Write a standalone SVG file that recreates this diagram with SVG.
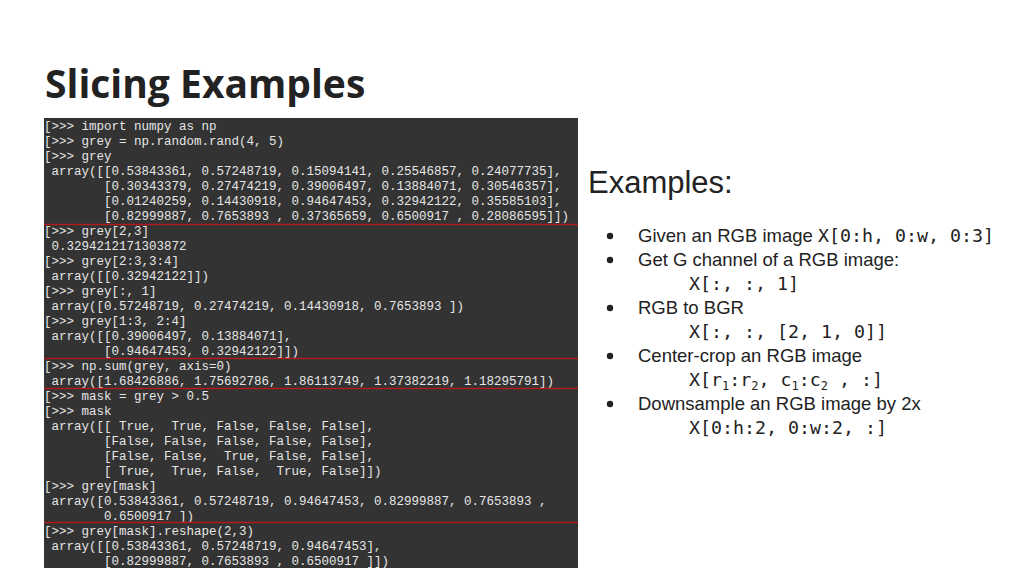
<svg xmlns="http://www.w3.org/2000/svg" width="1024" height="576" viewBox="0 0 1024 576" xml:space="preserve">
<style>
.t{font-family:"Liberation Mono",monospace;font-size:12.5px;fill:#e6e6e6;white-space:pre}
.r{stroke:#b01c1c;stroke-width:1.5}
.s{font-family:"Liberation Sans",Arial,sans-serif;font-size:18.5px;fill:#222}
.m{font-family:"DejaVu Sans Mono",monospace;font-size:18.3px;fill:#222;white-space:pre}
</style>
<rect width="1024" height="576" fill="#fff"/>
<text x="45" y="98" font-family="'Open Sans',sans-serif" font-weight="bold" font-size="39" fill="#222">Slicing Examples</text>
<g id="terminal">
<rect x="44" y="118" width="534" height="450" fill="#333333"/>
<g class="t">
<text x="44" y="130">[&gt;&gt;&gt; import numpy as np</text>
<text x="44" y="145">[&gt;&gt;&gt; grey = np.random.rand(4, 5)</text>
<text x="44" y="160">[&gt;&gt;&gt; grey</text>
<text x="51.5" y="175">array([[0.53843361, 0.57248719, 0.15094141, 0.25546857, 0.24077735],</text>
<text x="104" y="190">[0.30343379, 0.27474219, 0.39006497, 0.13884071, 0.30546357],</text>
<text x="104" y="205">[0.01240259, 0.14430918, 0.94647453, 0.32942122, 0.35585103],</text>
<text x="104" y="220">[0.82999887, 0.7653893 , 0.37365659, 0.6500917 , 0.28086595]])</text>
<text x="44" y="235">[&gt;&gt;&gt; grey[2,3]</text>
<text x="51.5" y="250">0.3294212171303872</text>
<text x="44" y="265">[&gt;&gt;&gt; grey[2:3,3:4]</text>
<text x="51.5" y="280">array([[0.32942122]])</text>
<text x="44" y="295">[&gt;&gt;&gt; grey[:, 1]</text>
<text x="51.5" y="310">array([0.57248719, 0.27474219, 0.14430918, 0.7653893 ])</text>
<text x="44" y="325">[&gt;&gt;&gt; grey[1:3, 2:4]</text>
<text x="51.5" y="340">array([[0.39006497, 0.13884071],</text>
<text x="104" y="355">[0.94647453, 0.32942122]])</text>
<text x="44" y="370">[&gt;&gt;&gt; np.sum(grey, axis=0)</text>
<text x="51.5" y="385">array([1.68426886, 1.75692786, 1.86113749, 1.37382219, 1.18295791])</text>
<text x="44" y="400">[&gt;&gt;&gt; mask = grey &gt; 0.5</text>
<text x="44" y="415">[&gt;&gt;&gt; mask</text>
<text x="51.5" y="430">array([[&#160;True,&#160;&#160;True, False, False, False],</text>
<text x="104" y="445">[False, False, False, False, False],</text>
<text x="104" y="460">[False, False,&#160;&#160;True, False, False],</text>
<text x="104" y="475">[&#160;True,&#160;&#160;True, False,&#160;&#160;True, False]])</text>
<text x="44" y="490">[&gt;&gt;&gt; grey[mask]</text>
<text x="51.5" y="505">array([0.53843361, 0.57248719, 0.94647453, 0.82999887, 0.7653893 ,</text>
<text x="104" y="520">0.6500917 ])</text>
<text x="44" y="535">[&gt;&gt;&gt; grey[mask].reshape(2,3)</text>
<text x="51.5" y="550">array([[0.53843361, 0.57248719, 0.94647453],</text>
<text x="104" y="565">[0.82999887, 0.7653893 , 0.6500917 ]])</text>
</g>
<line class="r" x1="44" y1="224.5" x2="578" y2="224.5"/>
<line class="r" x1="44" y1="358.5" x2="578" y2="358.5"/>
<line class="r" x1="44" y1="388.5" x2="578" y2="388.5"/>
<line class="r" x1="44" y1="522.5" x2="578" y2="522.5"/>
</g>
<g id="examples">
<text x="588" y="193" font-family="'Liberation Sans',Arial,sans-serif" font-size="31" fill="#222">Examples:</text>
<g fill="#222">
<circle cx="610" cy="236" r="3.2"/><circle cx="610" cy="260" r="3.2"/><circle cx="610" cy="308" r="3.2"/><circle cx="610" cy="356" r="3.2"/><circle cx="610" cy="404" r="3.2"/>
</g>
<text class="s" x="638" y="242">Given an RGB image <tspan class="m">X[0:h, 0:w, 0:3]</tspan></text>
<text class="s" x="638" y="266">Get G channel of a RGB image:</text>
<text class="m" x="689" y="290">X[:, :, 1]</text>
<text class="s" x="638" y="314">RGB to BGR</text>
<text class="m" x="689" y="338">X[:, :, [2, 1, 0]]</text>
<text class="s" x="638" y="362">Center-crop an RGB image</text>
<text class="m" x="689" y="386">X[r<tspan font-size="12" dy="4">1</tspan><tspan dy="-4">:r</tspan><tspan font-size="12" dy="4">2</tspan><tspan dy="-4">, c</tspan><tspan font-size="12" dy="4">1</tspan><tspan dy="-4">:c</tspan><tspan font-size="12" dy="4">2</tspan><tspan dy="-4"> , :]</tspan></text>
<text class="s" x="638" y="410">Downsample an RGB image by 2x</text>
<text class="m" x="689" y="434">X[0:h:2, 0:w:2, :]</text>
</g>
</svg>
